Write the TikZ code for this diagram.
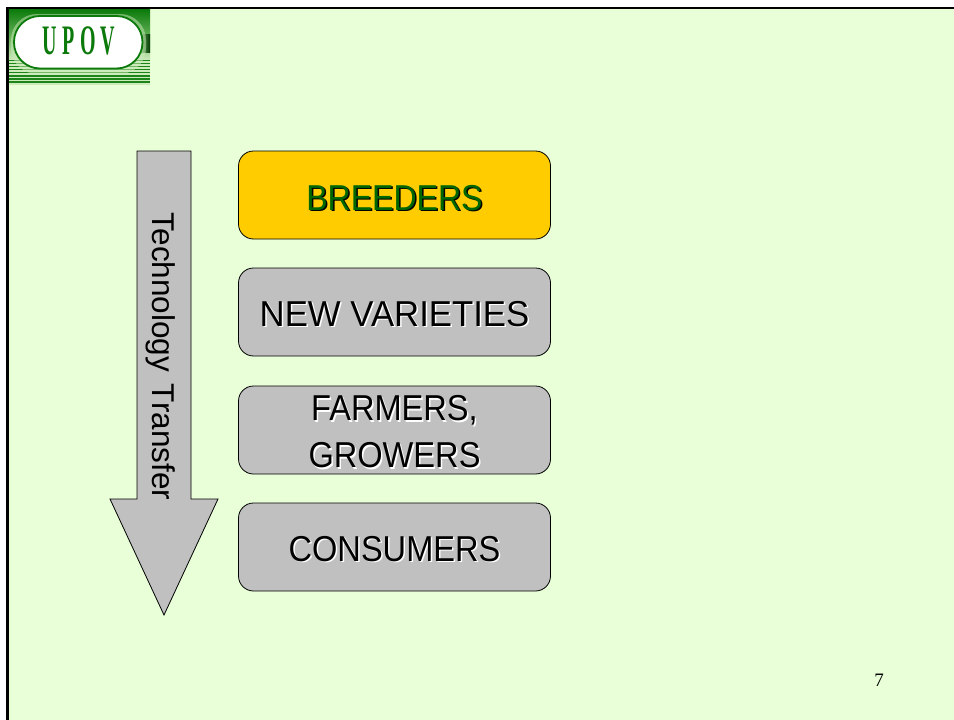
\documentclass[tikz,border=0pt]{standalone}
\usepackage{fontspec}
\setmainfont{Liberation Sans}
\newfontfamily\serifnum{Liberation Serif}
\usetikzlibrary{calc}
\definecolor{slidebg}{HTML}{E8FFD8}
\definecolor{boxgrey}{HTML}{C0C0C0}
\definecolor{boxgold}{HTML}{FFCC00}
\definecolor{textgreen}{HTML}{006600}
\definecolor{logogreen}{HTML}{0B7A0B}
\definecolor{logomid}{HTML}{5FAE52}
\definecolor{logopale}{HTML}{CDEBBB}
\tikzset{
  x=1pt,y=-1pt,
  stepbox/.style={draw=black,line width=0.8pt,rounded corners=15pt,minimum width=312pt,minimum height=88pt,inner sep=0pt,anchor=center},
  greybox/.style={stepbox,fill=boxgrey},
  goldbox/.style={stepbox,fill=boxgold},
  label/.style={font=\fontsize{36}{36}\selectfont,align=center,inner sep=0pt,anchor=center},
  logoletter/.style={font=\fontsize{40}{40}\selectfont\serifnum\bfseries,text=logogreen,xscale=0.5,yscale=1.05,inner sep=0pt},
}
% name, position, text, shadow colour, text colour, horizontal scale
\newcommand{\shadowtext}[6]{%
  \node[label,text=#4,xscale=#6] (#1s) at ($(#2)+(1.5,1.5)$) {#3};
  \node[label,text=#5,xscale=#6] (#1t) at (#2) {#3};
}
\begin{document}
\begin{tikzpicture}
\useasboundingbox (0,0) rectangle (954,720);
\fill[white] (0,0) rectangle (954,720);
\fill[slidebg] (7,8) rectangle (954,720);
\fill[black] (6,7) rectangle (954,9.2);
\fill[black] (6,7) rectangle (8.8,720);
% logo
\shade[top color=logogreen,bottom color=logopale,middle color=logomid] (8.8,9.2) rectangle (150,60);
\shade[left color=logomid,right color=black!55!logogreen] (140,34) rectangle (150,52);
\fill[logopale] (8.8,60) rectangle (150,84.5);
\foreach \y/\w in {60/0.9,63/1,66/1.1,69/1.2,72/1.4,75/1.5,78/1.7,81/2}{
  \fill[logogreen!80!logomid] (8.8,\y) rectangle (150,\y+\w);
}
\fill[logopale,opacity=0.5,rounded corners=26pt] (11,14) rectangle (146,74);
\draw[logogreen,line width=1.8pt,fill=white,rounded corners=26pt] (14,16) rectangle (142.5,68.5);
\node[logoletter] (logoU) at (50,41) {U};
\node[logoletter] (logoP) at (69,41) {P};
\node[logoletter] (logoO) at (88,41) {O};
\node[logoletter] (logoV) at (107.5,41) {V};
% arrow
\coordinate (a1) at (137,151);\coordinate (a2) at (191,151);\coordinate (a3) at (191,499);
\coordinate (a4) at (218,499);\coordinate (a5) at (164,615);\coordinate (a6) at (110,499);\coordinate (a7) at (137,499);
\draw[black,line width=0.8pt,fill=boxgrey,line join=miter] (a1)--(a2)--(a3)--(a4)--(a5)--(a6)--(a7)--cycle;
\node[rotate=-90,font=\fontsize{31.5}{32}\selectfont,inner sep=0pt,text=black] (arrowlabel) at (161,356.5) {Technology\hspace{3pt} Transfer};
% boxes
\node[goldbox] (b1) at (394.5,195) {};
\node[greybox] (b2) at (394.5,312) {};
\node[greybox] (b3) at (394.5,430) {};
\node[greybox] (b4) at (394.5,547) {};
\shadowtext{l1}{394.5,198}{BREEDERS}{black}{textgreen}{0.89}
\shadowtext{l2}{394.5,314}{NEW VARIETIES}{white}{black}{0.965}
\shadowtext{l3}{394.5,432}{FARMERS,\\[11pt]GROWERS}{white}{black}{0.905}
\shadowtext{l4}{394.5,549}{CONSUMERS}{white}{black}{0.905}
\node[font=\fontsize{19}{19}\selectfont\serifnum,text=black,inner sep=0pt] (pg) at (879,680) {7};
\end{tikzpicture}
\end{document}
